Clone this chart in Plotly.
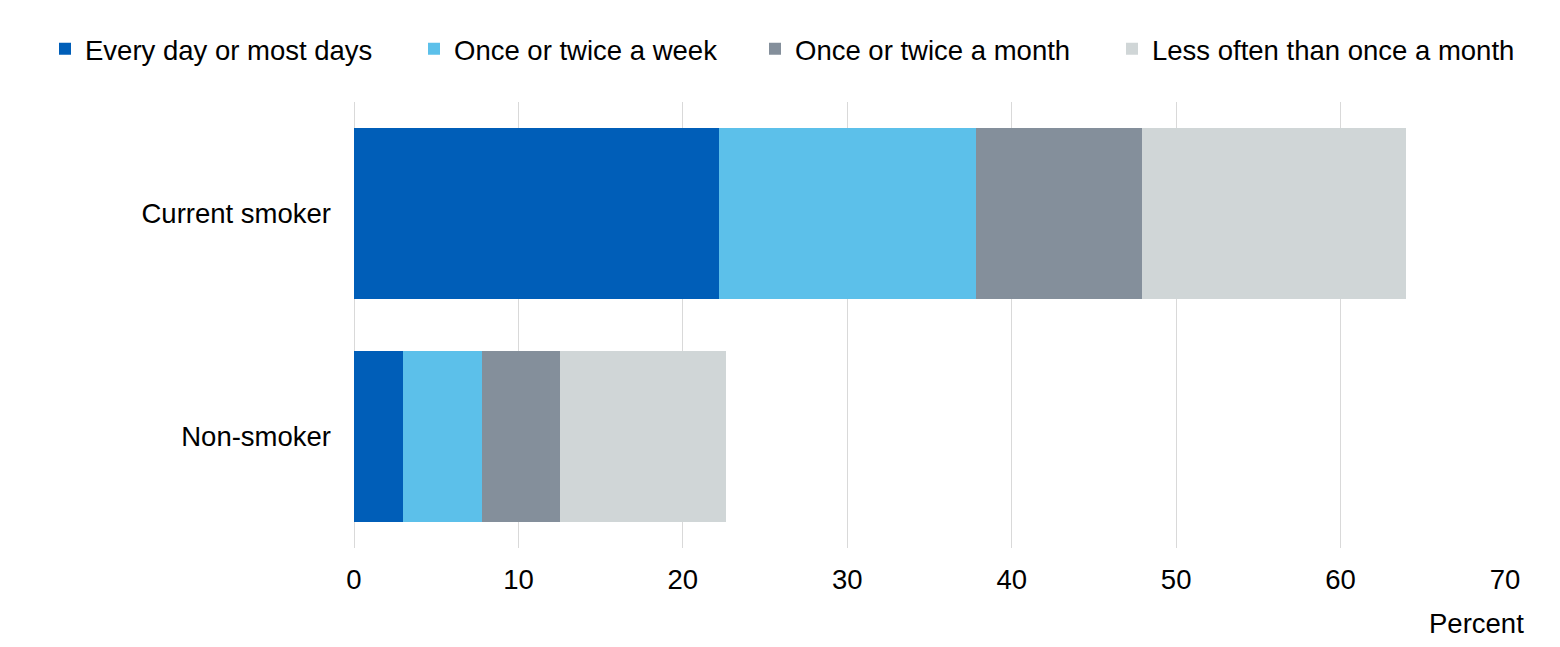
import plotly.graph_objects as go

# Share of people by frequency, split by smoking status (percent)
groups = ["Current smoker", "Non-smoker"]
series_names = [
    "Every day or most days",
    "Once or twice a week",
    "Once or twice a month",
    "Less often than once a month",
]
every_day = [22.2, 3.0]
weekly = [15.6, 4.8]
monthly = [10.1, 4.7]
less_often = [16.1, 10.1]

x_ticks = [0, 10, 20, 30, 40, 50, 60, 70]

colors = ["#005EB8", "#5CC0EA", "#848F9B", "#D0D6D7"]
series_values = [every_day, weekly, monthly, less_often]

# legend entries sit on one row, each placed at its own x (paper coords)
plot_left, plot_right = 354, 1505
legend_px = [45, 414, 755, 1112]
legend_x = [(px - plot_left) / (plot_right - plot_left) for px in legend_px]
legend_keys = ["legend", "legend2", "legend3", "legend4"]

FONT = "Liberation Sans, Arial, sans-serif"
FSIZE = 27.5

fig = go.Figure()
for name, vals, col, key in zip(series_names, series_values, colors, legend_keys):
    fig.add_trace(go.Bar(
        y=groups,
        x=vals,
        name=name,
        orientation="h",
        marker=dict(color=col, line=dict(width=0)),
        legend=key,
        showlegend=True,
        hoverinfo="x+name",
    ))

legend_common = dict(
    orientation="h",
    yanchor="middle",
    y=1.119,
    xanchor="left",
    font=dict(family=FONT, size=FSIZE, color="#000000"),
    bgcolor="rgba(0,0,0,0)",
    borderwidth=0,
)

fig.update_layout(
    barmode="stack",
    bargap=0.233,
    width=1560,
    height=647,
    showlegend=True,
    margin=dict(l=plot_left, r=1560 - plot_right, t=102, b=99),
    paper_bgcolor="white",
    plot_bgcolor="white",
    font=dict(family=FONT, size=FSIZE, color="#000000"),
    legend=dict(x=legend_x[0], visible=True, **legend_common),
    legend2=dict(x=legend_x[1], **legend_common),
    legend3=dict(x=legend_x[2], **legend_common),
    legend4=dict(x=legend_x[3], **legend_common),
)

fig.update_xaxes(
    range=[0, 70],
    tickvals=x_ticks,
    showgrid=True,
    gridcolor="#D9D9D9",
    gridwidth=1,
    zeroline=True,
    zerolinecolor="#D9D9D9",
    zerolinewidth=1,
    showline=False,
    ticks="",
    ticklabelstandoff=12,
    tickfont=dict(family=FONT, size=FSIZE, color="#000000"),
)

fig.update_yaxes(
    categoryorder="array",
    categoryarray=groups,
    autorange="reversed",
    showgrid=False,
    showline=False,
    ticks="",
    ticklabelstandoff=22,
    tickfont=dict(family=FONT, size=FSIZE, color="#000000"),
)

fig.add_annotation(
    text="Percent",
    xref="paper", yref="paper",
    x=(1526 - plot_left) / (plot_right - plot_left),
    y=-(623 - 548) / 446,
    xanchor="right", yanchor="middle",
    showarrow=False,
    font=dict(family=FONT, size=FSIZE, color="#000000"),
)

# drop the page's default body margin so the figure sits at the window origin
fig.write_html(
    "out.html",
    config={"displayModeBar": False},
    post_script="document.body.style.margin='0';",
)
